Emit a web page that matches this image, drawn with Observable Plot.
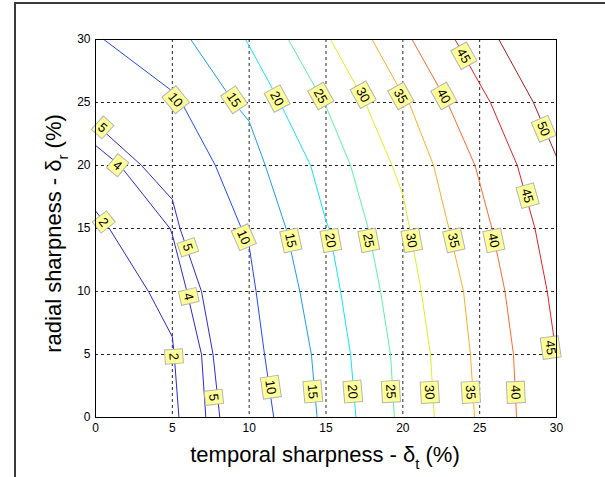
<!DOCTYPE html>
<html><head><meta charset="utf-8">
<script src="https://cdn.jsdelivr.net/npm/d3@7"></script>
<script src="https://cdn.jsdelivr.net/npm/@observablehq/plot@0.6"></script>
<style>
body{margin:0;background:#fff;width:605px;height:477px;overflow:hidden;position:relative;font-family:"Liberation Sans",Arial,sans-serif;}
#frame{position:absolute;left:14px;top:2px;width:591px;height:475px;border-left:2px solid #3a3a3a;border-top:2px solid #3a3a3a;box-sizing:border-box;}
#chart{position:absolute;left:0;top:0;}
.title{position:absolute;font-size:22px;line-height:25px;white-space:nowrap;text-align:center;color:#000;}
.sub{font-size:15px;position:relative;top:7px;}
</style></head><body>
<div id="frame"></div>
<div id="chart"></div>
<div class="title" id="xt" style="left:125px;top:442px;width:400px;">temporal sharpness - δ<span class="sub">t</span> (%)</div>
<div class="title" id="yt" style="left:-146px;top:220px;width:400px;transform:rotate(-90deg);">radial sharpness - δ<span class="sub">r</span> (%)</div>
<script>
const levels = [2,4,5,10,15,20,25,30,35,40,45,50];
const levelColors = ["#2a2ad4","#2a2ad8","#2c2cdc","#2448ff","#1a9cff","#10e8f0","#5cf5a0","#e0f020","#ffb020","#ff6a30","#e82020","#a02020"];
const xTicks = [0,5,10,15,20,25,30];
const yTicks = [0,5,10,15,20,25,30];
const gridVals = [5,10,15,20,25];

const line2  = [[0,16.4],[0.9,15],[3.45,10],[5,6.4],[5.12,5],[5.43,0]];
const line4  = [[0,21.6],[1.6,20],[4.85,15],[5,14.5],[5.95,10],[6.9,5],[7.18,0]];
const line5  = [[0,23.3],[3.0,20],[5,17.3],[5.5,15],[6.9,10],[7.65,5],[8.09,0]];
const line10 = [[0.54,30],[5,25.9],[5.6,25],[7.8,20],[9.5,15],[10,13.6],[10.45,10],[11.0,5],[11.6,0]];
const line15 = [[6.2,30],[9.0,25],[10,23.5],[11.05,20],[12.4,15],[13.3,10],[14.05,5],[14.42,0]];
const line20 = [[9.76,30],[10,29.5],[12.0,25],[14.0,20],[15,15.6],[15.2,15],[15.95,10],[16.6,5],[16.95,0]];
const line25 = [[12.55,30],[14.85,25],[15,24.7],[16.6,20],[17.75,15],[18.55,10],[19.2,5],[19.45,0]];
const line30 = [[15.3,30],[17.55,25],[19.3,20],[20,17.7],[20.45,15],[21.2,10],[21.8,5],[22.05,0]];
const line35 = [[18.0,30],[20,25.6],[20.4,25],[22.0,20],[23.0,15],[23.95,10],[24.4,5],[24.67,0]];
const line40 = [[20.6,30],[22.9,25],[24.7,20],[25.8,15],[26.65,10],[27.2,5],[27.4,0]];
const line45 = [[23.4,30],[25,26.5],[25.7,25],[27.45,20],[28.6,15],[29.4,10],[30,4.9]];
const line50 = [[26.25,30],[28.5,25],[30,20.7]];
const contours = [line2,line4,line5,line10,line15,line20,line25,line30,line35,line40,line45,line50];

const labelLevel = [2,2,4,4,5,5,5,10,10,10,15,15,15,20,20,20,25,25,25,30,30,30,35,35,35,40,40,40,45,45,45,50];
const labelX = [0.52,5.08,1.43,6.05,0.45,5.99,7.68,5.2,9.63,11.39,9.0,12.69,14.12,11.8,15.29,16.72,14.64,17.76,19.2,17.4,20.56,21.73,19.85,23.3,24.4,22.65,25.9,27.33,23.95,28.1,29.6,29.15];
const labelY = [15.5,4.84,20,9.6,23.0,13.5,1.6,25.2,14.3,2.4,25.2,14.05,2.06,25.3,14.05,2.06,25.5,14.05,2.06,25.6,14.05,2.0,25.5,14.05,2.0,25.5,14.05,2.0,28.7,17.6,5.55,22.9];

const W = 605, H = 477, ML = 95, MR = 49, MT = 39, MB = 60;
const kx = (W - ML - MR) / 30, ky = (H - MT - MB) / 30;

// rotation of each label follows the nearest segment of its contour (screen space)
const labels = labelLevel.map((lev, i) => {
  const pts = contours[levels.indexOf(lev)];
  const px = labelX[i] * kx, py = -labelY[i] * ky;
  let best = Infinity, ang = 0;
  for (let j = 0; j < pts.length - 1; j++) {
    const ax = pts[j][0]*kx, ay = -pts[j][1]*ky, bx = pts[j+1][0]*kx, by = -pts[j+1][1]*ky;
    const dx = bx-ax, dy = by-ay, L2 = dx*dx+dy*dy;
    let t = ((px-ax)*dx + (py-ay)*dy) / L2; t = Math.max(0, Math.min(1, t));
    const d = Math.hypot(ax + t*dx - px, ay + t*dy - py);
    if (d < best) { best = d; ang = Math.atan2(dy, dx) * 180 / Math.PI; }
  }
  if (ang > 90) ang -= 180; if (ang <= -90) ang += 180;
  return {level: lev, x: labelX[i], y: labelY[i], angle: ang};
});

const svg = Plot.plot({
  width: W, height: H,
  marginLeft: ML, marginRight: MR, marginTop: MT, marginBottom: MB,
  style: {fontFamily: '"Liberation Sans", Arial, sans-serif', fontSize: "12px", color: "#000", background: "transparent"},
  x: {domain: [0,30], ticks: xTicks, tickSize: 0, tickPadding: 6, label: null},
  y: {domain: [0,30], ticks: yTicks, tickSize: 0, tickPadding: 5, label: null},
  marks: [
    Plot.ruleX(gridVals, {stroke: "#000", strokeOpacity: 0.85, strokeWidth: 1, strokeDasharray: "3,3"}),
    Plot.ruleY(gridVals, {stroke: "#000", strokeOpacity: 0.85, strokeWidth: 1, strokeDasharray: "3,3"}),
    ...contours.map((pts, i) => Plot.line(pts, {x: d => d[0], y: d => d[1], stroke: levelColors[i], strokeWidth: 1})),
    Plot.text(labels, {x: "x", y: "y", text: d => String(d.level), rotate: "angle", fontSize: 13, fill: "#000", ariaLabel: "contour labels"}),
    Plot.frame({stroke: "#000", strokeWidth: 1})
  ]
});
document.getElementById("chart").append(svg);

const ns = "http://www.w3.org/2000/svg";
let texts = svg.querySelectorAll('g[aria-label="contour labels"] text');
if (!texts.length) texts = svg.querySelectorAll('g[aria-label="text"] text');
texts.forEach(t => {
  const b = t.getBBox();
  const r = document.createElementNS(ns, "rect");
  r.setAttribute("x", b.x - 3.5);
  r.setAttribute("y", b.y - 1.5);
  r.setAttribute("width", b.width + 7);
  r.setAttribute("height", b.height + 3);
  r.setAttribute("fill", "#ffff99");
  r.setAttribute("stroke", "#b4b4b4");
  r.setAttribute("stroke-width", "1");
  const tr = t.getAttribute("transform");
  if (tr) r.setAttribute("transform", tr);
  t.parentNode.insertBefore(r, t);
});
</script>
</body></html>
